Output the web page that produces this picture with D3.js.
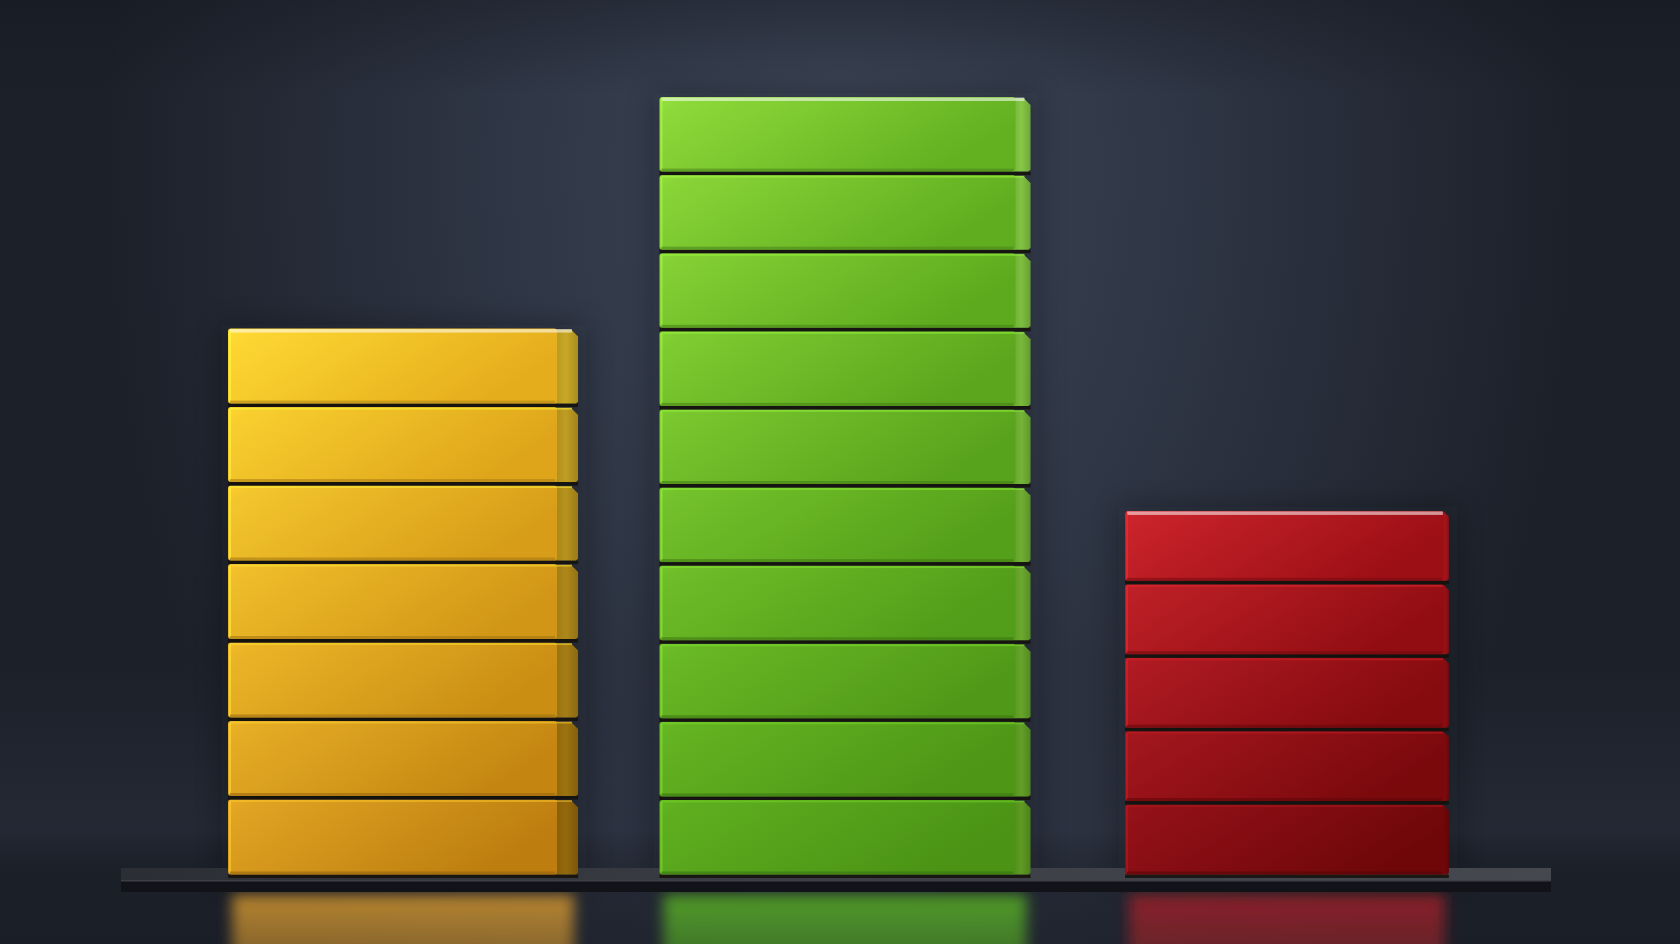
<!DOCTYPE html>
<html lang="en">
<head>
  <meta charset="UTF-8">
  <title>Stacked block bars</title>
  <script src="https://d3js.org/d3.v7.min.js"></script>
  <style>
    html, body { margin: 0; padding: 0; background: #1a1e27; overflow: hidden; }
    svg { display: block; }
  </style>
</head>
<body>
<div id="chart"></div>

<script>
  // data: number of blocks in each stack
  const categories = ["Yellow", "Green", "Red"];
  const blockCounts = [7, 10, 5];

  // look of each stack (face colours: top block left/right, bottom block left/right)
  const faceTop = [["#fdd632", "#e4ad1c"], ["#8dd93a", "#63b021"], ["#c9232b", "#9c0f15"]];
  const faceBottom = [["#e0a322", "#bd7e0f"], ["#5fae1f", "#4a9315"], ["#931118", "#6f0709"]];
  const sideTop = ["#c9a826", "#86c846", "#a5141c"];
  const sideBottom = ["#94680c", "#5d9a22", "#700609"];
  const reflectColor = ["#c89030", "#55a826", "#96222a"];
  // perspective tweaks (camera sits left of centre)
  const widthK = [1.0, 1.06, 0.925];
  const heightK = [1.005, 1.0, 0.94];
  const sideW = [21, 15, 5];

  const width = 1680;
  const height = 944;
  const baseY = 878;

  const svg = d3.select("#chart")
    .append("svg")
    .attr("width", width)
    .attr("height", height);

  const defs = svg.append("defs");

  // background spotlight
  const bg = defs.append("radialGradient")
    .attr("id", "bg")
    .attr("gradientUnits", "userSpaceOnUse")
    .attr("cx", 840).attr("cy", 170).attr("r", 820)
    .attr("gradientTransform", "translate(840,170) scale(0.9,1.3) translate(-840,-170)");
  [["0", "#3d4657"], ["0.3", "#343c4c"], ["0.65", "#282e3b"], ["1", "#1c2029"]]
    .forEach(s => bg.append("stop").attr("offset", s[0]).attr("stop-color", s[1]));

  const topFade = defs.append("linearGradient")
    .attr("id", "topFade").attr("x1", 0).attr("y1", 0).attr("x2", 0).attr("y2", 1);
  topFade.append("stop").attr("offset", "0").attr("stop-color", "#151820").attr("stop-opacity", 0.45);
  topFade.append("stop").attr("offset", "0.1").attr("stop-color", "#151820").attr("stop-opacity", 0);
  topFade.append("stop").attr("offset", "0.7").attr("stop-color", "#3a4356").attr("stop-opacity", 0);
  topFade.append("stop").attr("offset", "0.88").attr("stop-color", "#3a4356").attr("stop-opacity", 0.25);
  topFade.append("stop").attr("offset", "0.93").attr("stop-color", "#151820").attr("stop-opacity", 0.1);
  topFade.append("stop").attr("offset", "1").attr("stop-color", "#151820").attr("stop-opacity", 0.25);

  defs.append("filter").attr("id", "blur").attr("x", "-30%").attr("y", "-30%")
    .attr("width", "160%").attr("height", "160%")
    .append("feGaussianBlur").attr("stdDeviation", 7);
  defs.append("filter").attr("id", "shadow").attr("x", "-30%").attr("y", "-30%")
    .attr("width", "160%").attr("height", "160%")
    .append("feGaussianBlur").attr("stdDeviation", 14);

  svg.append("rect").attr("width", width).attr("height", height).attr("fill", "url(#bg)");
  svg.append("rect").attr("width", width).attr("height", height).attr("fill", "url(#topFade)");

  // scales
  const xScale = d3.scaleBand()
    .domain(categories)
    .range([228, 1462])
    .paddingInner(0.208)
    .paddingOuter(0);

  const yScale = d3.scaleLinear()
    .domain([0, d3.max(blockCounts)])
    .range([baseY, 97]);

  // x0..x1 is the front face, the side face runs from x1 to x1 + side
  const bars = categories.map((c, i) => {
    const cx = xScale(c) + xScale.bandwidth() / 2;
    const w = xScale.bandwidth() * widthK[i];
    return { cat: c, i: i, n: blockCounts[i], x0: cx - w / 2, x1: cx + w / 2 - sideW[i], side: sideW[i] };
  });

  // floor plate
  const [r0, r1] = xScale.range();
  const plateL = r0 - 107, plateR = r1 + 89;
  const plateTop = defs.append("linearGradient")
    .attr("id", "plateTop").attr("x1", 0).attr("y1", 0).attr("x2", 1).attr("y2", 0);
  plateTop.append("stop").attr("offset", "0").attr("stop-color", "#2b2e35");
  plateTop.append("stop").attr("offset", "0.5").attr("stop-color", "#3b3e45");
  plateTop.append("stop").attr("offset", "1").attr("stop-color", "#45484f");

  // reflections under the plate
  bars.forEach(b => {
    const g = defs.append("linearGradient")
      .attr("id", "refl" + b.i).attr("x1", 0).attr("y1", 0).attr("x2", 0).attr("y2", 1);
    g.append("stop").attr("offset", "0").attr("stop-color", reflectColor[b.i]).attr("stop-opacity", 0.9);
    g.append("stop").attr("offset", "1").attr("stop-color", reflectColor[b.i]).attr("stop-opacity", 0.55);
  });
  svg.append("g").selectAll("rect")
    .data(bars).join("rect")
    .attr("x", d => d.x0 + 4)
    .attr("y", 894)
    .attr("width", d => d.x1 - d.x0 + d.side - 8)
    .attr("height", 70)
    .attr("fill", d => `url(#refl${d.i})`)
    .attr("filter", "url(#blur)");

  // soft shadow behind stacks
  svg.append("g").selectAll("rect")
    .data(bars).join("rect")
    .attr("x", d => d.x0 - 6)
    .attr("y", d => yScale(d.n * heightK[d.i]) - 4)
    .attr("width", d => d.x1 - d.x0 + d.side + 14)
    .attr("height", d => baseY - yScale(d.n * heightK[d.i]) + 8)
    .attr("fill", "#0a0c10")
    .attr("opacity", 0.3)
    .attr("filter", "url(#shadow)");

  svg.append("rect")
    .attr("x", plateL).attr("y", 868)
    .attr("width", plateR - plateL).attr("height", 13)
    .attr("fill", "url(#plateTop)");
  svg.append("rect")
    .attr("x", plateL).attr("y", 880)
    .attr("width", plateR - plateL).attr("height", 12)
    .attr("fill", "#111318");
  svg.append("rect")
    .attr("x", plateL).attr("y", 880)
    .attr("width", plateR - plateL).attr("height", 1.5)
    .attr("fill", "#5a5d64").attr("opacity", 0.6);

  // blocks
  const blocks = [];
  bars.forEach(b => {
    for (let j = 0; j < b.n; j++) {
      const t = b.n > 1 ? (b.n - 1 - j) / (b.n - 1) : 0; // 0 = top block
      blocks.push({
        bar: b,
        j: j,
        top: yScale((j + 1) * heightK[b.i]),
        bottom: yScale(j * heightK[b.i]),
        left: d3.interpolateRgb(faceTop[b.i][0], faceBottom[b.i][0])(t),
        right: d3.interpolateRgb(faceTop[b.i][1], faceBottom[b.i][1])(t),
        sideC: d3.interpolateRgb(sideTop[b.i], sideBottom[b.i])(t),
        isTop: j === b.n - 1
      });
    }
  });

  blocks.forEach((d, k) => {
    d.id = "face" + k;
    const g = defs.append("linearGradient")
      .attr("id", d.id).attr("x1", 0).attr("y1", 0).attr("x2", 1).attr("y2", 0.35);
    g.append("stop").attr("offset", "0").attr("stop-color", d3.color(d.left).brighter(0.12));
    g.append("stop").attr("offset", "0.08").attr("stop-color", d.left);
    g.append("stop").attr("offset", "1").attr("stop-color", d.right);
    const s = defs.append("linearGradient")
      .attr("id", "side" + k).attr("x1", 0).attr("y1", 0).attr("x2", 1).attr("y2", 0);
    s.append("stop").attr("offset", "0").attr("stop-color", d3.color(d.sideC).darker(0.3));
    s.append("stop").attr("offset", "0.5").attr("stop-color", d.sideC);
    s.append("stop").attr("offset", "1").attr("stop-color", d3.color(d.sideC).darker(0.5));
  });

  const gap = 3.5;
  const blockG = svg.append("g").selectAll("g")
    .data(blocks).join("g");

  // dark seam under each block
  blockG.append("rect")
    .attr("x", d => d.bar.x0)
    .attr("y", d => d.bottom - gap)
    .attr("width", d => d.bar.x1 - d.bar.x0 + d.bar.side)
    .attr("height", gap)
    .attr("fill", "#14100a")
    .attr("opacity", 0.85);

  // side face with chamfered top
  blockG.append("path")
    .attr("d", d => {
      const x = d.bar.x1 - 3, s = d.bar.side + 3, t = d.top + 1, bt = d.bottom - gap;
      const ch = Math.min(7, s * 0.6);
      return `M${x},${t} L${x + s - ch},${t} L${x + s},${t + ch} L${x + s},${bt - 2} L${x + s - 2},${bt} L${x},${bt} Z`;
    })
    .attr("fill", (d, k) => `url(#side${k})`);

  // front face
  blockG.append("rect")
    .attr("x", d => d.bar.x0)
    .attr("y", d => d.top)
    .attr("width", d => d.bar.x1 - d.bar.x0)
    .attr("height", d => d.bottom - d.top - gap)
    .attr("rx", 3)
    .attr("fill", d => `url(#${d.id})`);

  // top edge highlight
  blockG.append("rect")
    .attr("x", d => d.bar.x0 + 2)
    .attr("y", d => d.top + 0.5)
    .attr("width", d => d.bar.x1 - d.bar.x0 + d.bar.side - 8)
    .attr("height", d => d.isTop ? 3.5 : 2)
    .attr("fill", d => d.isTop ? "#ffffff" : d3.color(d.left).brighter(0.6))
    .attr("opacity", d => d.isTop ? 0.55 : 0.5);

  // left edge highlight
  blockG.append("rect")
    .attr("x", d => d.bar.x0 + 1)
    .attr("y", d => d.top + 2)
    .attr("width", 2)
    .attr("height", d => d.bottom - d.top - gap - 4)
    .attr("fill", d => d3.color(d.left).brighter(0.8))
    .attr("opacity", 0.55);

  // bottom edge shade
  blockG.append("rect")
    .attr("x", d => d.bar.x0 + 2)
    .attr("y", d => d.bottom - gap - 3)
    .attr("width", d => d.bar.x1 - d.bar.x0 - 4)
    .attr("height", 3)
    .attr("fill", d => d3.color(d.right).darker(0.7))
    .attr("opacity", 0.6);
</script>

</body>
</html>
